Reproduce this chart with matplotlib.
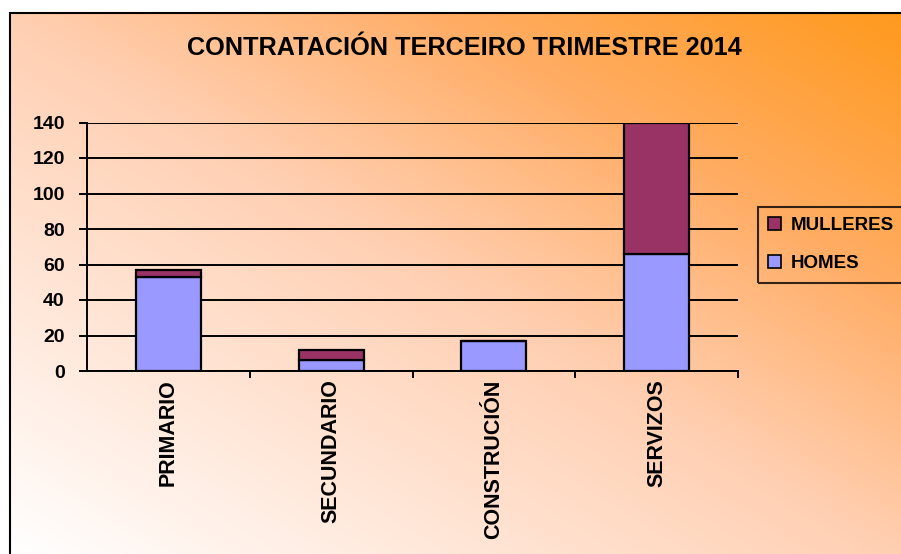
import numpy as np
import matplotlib
matplotlib.use('Agg')
import matplotlib.pyplot as plt
from matplotlib.colors import LinearSegmentedColormap
from matplotlib.patches import Patch, Rectangle

plt.rcParams['font.family'] = ['Liberation Sans', 'DejaVu Sans']
plt.rcParams['font.weight'] = 'bold'

sectores = ['PRIMARIO', 'SECUNDARIO', 'CONSTRUCIÓN', 'SERVIZOS']
homes = [53, 6, 17, 66]
mulleres = [4, 6, 0, 74]
yticks = [0, 20, 40, 60, 80, 100, 120, 140]

W, H = 901, 554
fig = plt.figure(figsize=(W / 100, H / 100), dpi=100)

# fondo degradado diagonal (branco abaixo á esquerda, laranxa arriba á dereita)
bg = fig.add_axes([0, 0, 1, 1], zorder=-10)
bg.axis('off')
cmap = LinearSegmentedColormap.from_list(
    'fondo', [(0, '#FFFFFF'), (0.5, '#FFCFB2'), (0.75, '#FFAC62'), (1, '#FF9A1E')])
xx, yy = np.meshgrid(np.arange(W), np.arange(H))
u = (xx - 10) / (W - 10)
v = (H - yy) / (H - 13)
t = np.clip((u + v) / 2, 0, 1)
img = cmap(t)
img[(yy < 13) | (xx < 10)] = (1, 1, 1, 1)
bg.imshow(img, extent=(0, 1, 0, 1), aspect='auto', interpolation='bilinear')
bg.set_xlim(0, 1)
bg.set_ylim(0, 1)
fig.add_artist(Rectangle((10 / W, -0.05), 1.0, 1 - 13 / H + 0.05, fill=False,
                         lw=1.5, edgecolor='black', transform=fig.transFigure))

ax = fig.add_axes([87 / W, 1 - 371 / H, (738 - 87) / W, (371 - 122.5) / H])
ax.set_facecolor('none')
x = np.arange(len(sectores))
ax.bar(x, homes, 0.4, color='#9999FF', edgecolor='black', lw=1.6, zorder=3)
ax.bar(x, mulleres, 0.4, bottom=homes, color='#993366', edgecolor='black', lw=1.6, zorder=3)

ax.set_xlim(-0.5, 3.5)
ax.set_ylim(0, 140)
ax.set_yticks(yticks)
ax.yaxis.grid(True, color='black', lw=1.4)
ax.set_axisbelow(True)
for s in ['top', 'right']:
    ax.spines[s].set_visible(False)
for s in ['left', 'bottom']:
    ax.spines[s].set_linewidth(1.4)

ax.set_xticks(x)
ax.set_xticklabels(sectores, rotation=90, fontsize=15.5, fontweight='bold')
ax.set_xticks([0.5, 1.5, 2.5, 3.5], minor=True)
ax.tick_params(axis='x', which='major', length=0, pad=6)
ax.tick_params(axis='x', which='minor', length=5, width=1.4, direction='out')
ax.tick_params(axis='y', length=6, width=1.4, labelsize=14, pad=10)
for lab in ax.get_yticklabels():
    lab.set_fontweight('bold')

fig.text(464 / W, 1 - 48 / H, 'CONTRATACIÓN TERCEIRO TRIMESTRE 2014',
         ha='center', va='center', fontsize=18.2, fontweight='bold')

handles = [Patch(facecolor='#993366', edgecolor='black', lw=1.2, label='MULLERES'),
           Patch(facecolor='#9999FF', edgecolor='black', lw=1.2, label='HOMES')]
leg = fig.legend(handles=handles, loc='upper left', bbox_to_anchor=(758 / W, 1 - 207 / H),
                 fontsize=13.5, handlelength=0.7, handleheight=0.7, handletextpad=0.5,
                 labelspacing=1.1, borderpad=0.55, borderaxespad=0, fancybox=False,
                 frameon=True, edgecolor='black', facecolor='none')
leg.get_frame().set_linewidth(1.5)
for txt in leg.get_texts():
    txt.set_fontweight('bold')

fig.savefig('out.png', dpi=100)
